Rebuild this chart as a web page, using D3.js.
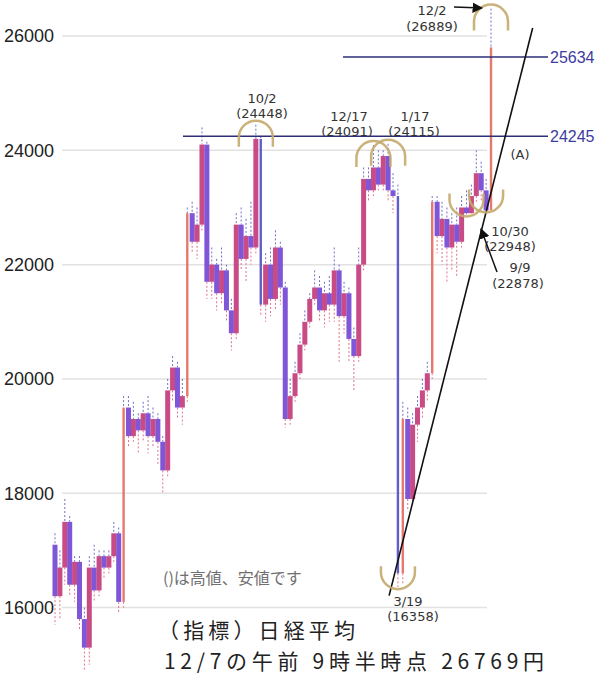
<!DOCTYPE html>
<html><head><meta charset="utf-8">
<script src="https://cdn.jsdelivr.net/npm/d3@7"></script>
<style>body{margin:0;background:#fff}</style>
</head><body><svg id="c" width="600" height="686"></svg>
<script>
// ---- data ----
const opens  = [17100,16200,16700,17500,16400,16800,15800,15300,16700,16300,16900,16700,16900,17300,16100,
  19500,19000,19300,19100,19400,19000,19300,18900,18400,19800,20200,19500,19700,
  22900,22400,22700,24100,21700,22000,21500,21900,21200,20800,22700,22100,22500,22300,24200,21300,22000,21400,22300,21600,
  19300,19700,20100,20600,21000,21400,21600,21200,21500,21300,21900,21100,21500,20700,20400,22000,
  23500,23300,23700,23400,23900,23300,23200,
  16600,19300,17900,19200,19500,19800,20100,
  23100,22500,22800,22300,22700,22400,23000,22900,23200,23600,23300,22950];
const closes = [16200,16700,17500,16400,16800,15800,15300,16700,16300,16900,16700,16900,17300,16100,19500,
  19000,19300,19100,19400,19000,19300,18900,18400,19800,20200,19500,19700,22900,
  22400,22700,24100,21700,22000,21500,21900,21200,20800,22700,22100,22500,22300,24200,21300,22000,21400,22300,21600,19300,
  19700,20100,20600,21000,21400,21600,21200,21500,21300,21900,21100,21500,20700,20400,22000,23500,
  23300,23700,23400,23900,23300,23200,16600,
  19300,17900,19200,19500,19800,20100,23100,
  22500,22800,22300,22700,22400,23000,22900,23200,23600,23300,22950,25800];
const highs  = [17300,17000,17900,17600,16900,16900,16000,16900,17100,17000,17000,17000,17500,17400,19700,
  19700,19600,19400,19600,19700,19500,19400,19000,20000,20400,20300,20000,23000,
  23100,23000,24400,24150,22300,22100,22300,22000,21400,22900,23000,22800,23100,24448,24250,22200,22300,22600,22400,21700,
  20000,20300,20800,21200,21500,21900,21800,21700,21800,22300,22000,21700,21600,20900,22300,23700,
  23700,24091,24000,24000,24115,23600,23400,
  19600,19500,19400,19700,20000,20300,23200,
  23200,23100,23000,22900,23000,23200,23300,23400,24000,23800,23500,26480];
const lows   = [15700,15800,16400,16200,16100,15600,14900,15000,16100,16200,16500,16600,16800,15900,16000,
  18800,18900,18700,18900,18700,18800,18500,18000,18300,19600,19300,19200,19600,
  22200,22100,22600,21400,21400,21200,21300,21000,20500,20700,21900,21700,22000,22200,21100,21000,21100,21200,21300,19150,
  19200,19600,20000,20500,20900,21300,21000,20900,21000,21000,20300,20800,20300,19800,20300,21900,
  23100,23200,23300,23300,23100,22900,16358,
  16400,17700,17800,18900,19300,19600,20000,
  22200,22000,21700,21900,21800,22300,22878,22950,23100,23100,22948,22950];
const yTicks = [16000,18000,20000,22000,24000,26000];
const levels = [24245, 25634];
const peakIdx = [41, 65, 68, 89];          // 10/2, 12/17, 1/17, 12/2
const troughIdx = [70, 84, 88];            // 3/19, 9/9, 10/30
const trendIdx = [68.2, 97.5];
const trendVal = [16210, 26140];

// ---- scales ----
const svg = d3.select("#c");
const N = opens.length;
const x = d3.scaleLinear().domain([0, N - 1]).range([55, 491]);
const y = d3.scaleLinear().domain([16000, 26000]).range([607.6, 36]);

// grid + y labels
svg.append("g").selectAll("line").data(yTicks).join("line")
  .attr("x1", 62).attr("x2", 487).attr("y1", d => y(d)).attr("y2", d => y(d))
  .attr("stroke", "#e2e2e2").attr("stroke-width", 1.5);
svg.append("g").selectAll("text").data(yTicks).join("text")
  .attr("x", 54).attr("y", d => y(d)).attr("text-anchor", "end").attr("dy", "0.36em")
  .attr("font-family", "Liberation Sans, Arial, sans-serif").attr("font-size", 18).attr("fill", "#222")
  .text(d => d);

// bars
const idx = d3.range(N);
const big = i => Math.abs(closes[i] - opens[i]) > 2600;
const g = svg.append("g");
g.selectAll("line.uw").data(idx).join("line").attr("class", "uw")
  .attr("x1", i => x(i)).attr("x2", i => x(i))
  .attr("y1", i => y(highs[i])).attr("y2", i => y(Math.max(opens[i], closes[i])))
  .attr("stroke", "#7070c8").attr("stroke-width", 1).attr("stroke-dasharray", "2,2");
g.selectAll("line.lw").data(idx).join("line").attr("class", "lw")
  .attr("x1", i => x(i)).attr("x2", i => x(i))
  .attr("y1", i => y(Math.min(opens[i], closes[i]))).attr("y2", i => y(lows[i]))
  .attr("stroke", "#e07088").attr("stroke-width", 1).attr("stroke-dasharray", "2,2");
g.selectAll("rect").data(idx).join("rect")
  .attr("x", i => x(i) - (big(i) ? 1.2 : 2.5))
  .attr("width", i => big(i) ? 2.4 : 5)
  .attr("y", i => y(Math.max(opens[i], closes[i])))
  .attr("height", i => Math.max(1, Math.abs(y(opens[i]) - y(closes[i]))))
  .attr("fill", i => big(i) ? (closes[i] > opens[i] ? "#e46c62" : "#5250c6")
                            : (closes[i] > opens[i] ? "#c43c7c" : "#7448d4"))
  .attr("opacity", 0.92);

// resistance lines
const lvX1 = [183, 343];
svg.append("g").selectAll("line").data(levels).join("line")
  .attr("x1", (d, i) => lvX1[i]).attr("x2", 548).attr("y1", d => y(d)).attr("y2", d => y(d))
  .attr("stroke", "#2e2e78").attr("stroke-width", 1.5);
svg.append("g").selectAll("text").data(levels).join("text")
  .attr("x", 550).attr("y", d => y(d)).attr("dy", "0.36em")
  .attr("font-family", "Liberation Sans, Arial, sans-serif").attr("font-size", 16).attr("fill", "#3c3ca0")
  .text(d => d);

// trend line
svg.append("line")
  .attr("x1", x(trendIdx[0])).attr("y1", y(trendVal[0]))
  .attr("x2", x(trendIdx[1])).attr("y2", y(trendVal[1]))
  .attr("stroke", "#111").attr("stroke-width", 1.6);

// arcs
const r = 17;
svg.append("g").selectAll("path").data(peakIdx).join("path")
  .attr("d", i => { const cx = x(i), cy = y(highs[i]) + r - 4;
    return `M${cx - r},${cy + 9} L${cx - r},${cy} A${r},${r} 0 0 1 ${cx + r},${cy} L${cx + r},${cy + 9}`; })
  .attr("fill", "none").attr("stroke", "#c4aa6c").attr("stroke-width", 2.5).attr("opacity", 0.9);
svg.append("g").selectAll("path").data(troughIdx).join("path")
  .attr("d", i => { const cx = x(i), cy = y(lows[i]) - r + 2;
    return `M${cx - r},${cy - 6} L${cx - r},${cy} A${r},${r} 0 0 0 ${cx + r},${cy} L${cx + r},${cy - 6}`; })
  .attr("fill", "none").attr("stroke", "#c4aa6c").attr("stroke-width", 2.5).attr("opacity", 0.9);

// annotation text
const defs = svg.append("defs");
defs.append("marker").attr("id", "ah").attr("viewBox", "0 0 10 10").attr("refX", 9).attr("refY", 5)
  .attr("markerWidth", 7).attr("markerHeight", 7).attr("orient", "auto")
  .append("path").attr("d", "M0,0 L10,5 L0,10 z").attr("fill", "#111");

const notes = [
  ["10/2", 262, 103], ["(24448)", 262, 118],
  ["12/17", 349, 121], ["(24091)", 347, 136],
  ["1/17", 415, 121], ["(24115)", 414, 136],
  ["12/2", 432, 15], ["(26889)", 432, 31],
  ["(A)", 520, 159],
  ["10/30", 510, 236], ["(22948)", 510, 251],
  ["9/9", 520, 272], ["(22878)", 518, 288],
  ["3/19", 408, 606], ["(16358)", 413, 621]
];
svg.append("g").selectAll("text").data(notes).join("text")
  .attr("x", d => d[1]).attr("y", d => d[2]).attr("text-anchor", "middle")
  .attr("font-family", "DejaVu Sans, sans-serif").attr("font-size", 13).attr("fill", "#333")
  .text(d => d[0]);

svg.append("line").attr("x1", 454).attr("y1", 7).attr("x2", 482).attr("y2", 8)
  .attr("stroke", "#111").attr("stroke-width", 1.5).attr("marker-end", "url(#ah)");
svg.append("line").attr("x1", 497).attr("y1", 272).attr("x2", 481).attr("y2", 229)
  .attr("stroke", "#111").attr("stroke-width", 1.5).attr("marker-end", "url(#ah)");

svg.append("text").attr("x", 163).attr("y", 584)
  .attr("font-family", "Noto Sans CJK JP, sans-serif").attr("font-size", 16).attr("fill", "#707070")
  .text("()は高値、安値です");
svg.append("text").attr("x", 158).attr("y", 638)
  .attr("font-family", "Noto Sans CJK JP, sans-serif").attr("font-size", 21).attr("fill", "#222")
  .attr("textLength", 197).attr("lengthAdjust", "spacing")
  .text("（指標）日経平均");
svg.append("text").attr("x", 164).attr("y", 669)
  .attr("font-family", "Noto Sans CJK JP, sans-serif").attr("font-size", 21).attr("fill", "#222")
  .attr("textLength", 380).attr("lengthAdjust", "spacing")
  .text("12/7の午前 9時半時点 26769円");
</script></body></html>
